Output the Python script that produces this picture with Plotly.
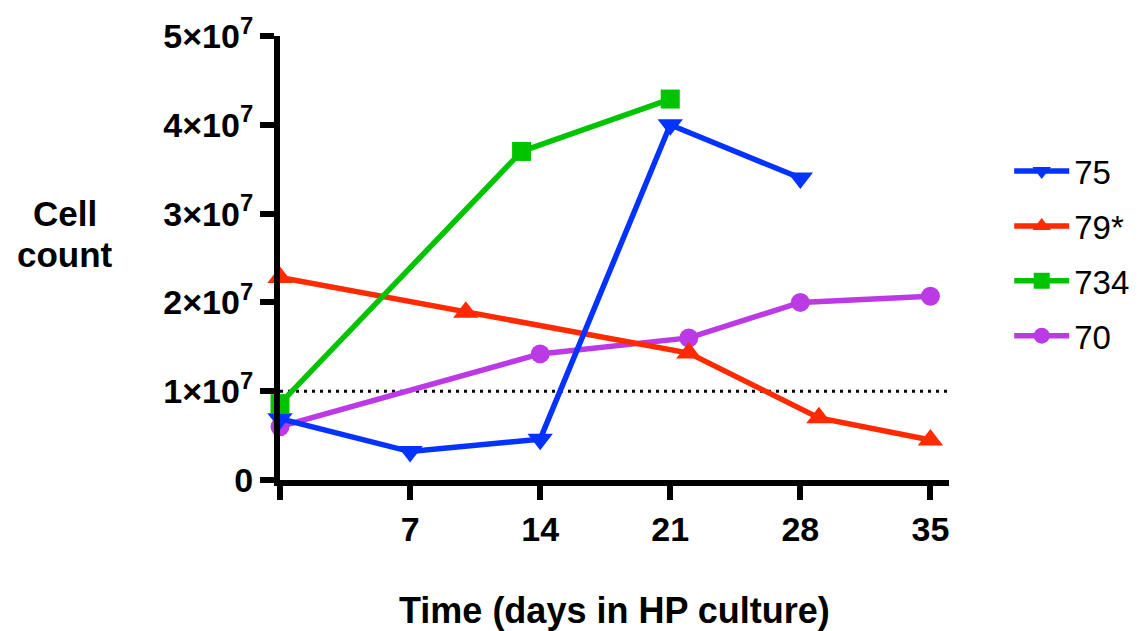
import plotly.graph_objects as go

# Cell counts per line over time in HP culture
days_75 = [0, 7, 14, 21, 28]
count_75 = [6.9e6, 3.2e6, 4.6e6, 4.0e7, 3.4e7]

days_79 = [0, 10, 22, 29, 35]
count_79 = [2.28e7, 1.89e7, 1.43e7, 7.0e6, 4.5e6]

days_734 = [0, 13, 21]
count_734 = [8.6e6, 3.7e7, 4.29e7]

days_70 = [0, 14, 22, 28, 35]
count_70 = [6.0e6, 1.42e7, 1.60e7, 2.0e7, 2.07e7]

threshold = 1e7

x_tick_vals = [0, 7, 14, 21, 28, 35]
x_tick_text = ["", "7", "14", "21", "28", "35"]
y_tick_vals = [0, 1e7, 2e7, 3e7, 4e7, 5e7]
y_tick_text = ["0", "1×10<sup>7</sup>", "2×10<sup>7</sup>", "3×10<sup>7</sup>",
               "4×10<sup>7</sup>", "5×10<sup>7</sup>"]

BLUE = "#0433ff"
RED = "#ff2a00"
GREEN = "#00c400"
PURPLE = "#bc3ae6"

FONT = "Liberation Sans, Arial, sans-serif"

series = [
    # name, x, y, color, symbol, size, legend rank
    ("70", days_70, count_70, PURPLE, "circle", 19, 4),
    ("79*", days_79, count_79, RED, "triangle-up", 22, 2),
    ("75", days_75, count_75, BLUE, "triangle-down", 22, 1),
    ("734", days_734, count_734, GREEN, "square", 19, 3),
]

fig = go.Figure()
for name, xs, ys, color, symbol, size, rank in series:
    fig.add_trace(go.Scatter(
        x=xs, y=ys, name=name, mode="lines+markers",
        line=dict(color=color, width=5.5),
        marker=dict(symbol=symbol, size=size, color=color, line=dict(width=0)),
        cliponaxis=False, legendrank=rank, legendgroup=name,
    ))

# dotted reference line at 1×10^7
fig.add_shape(type="line", xref="paper", x0=0, x1=1, yref="y",
              y0=threshold, y1=threshold,
              line=dict(color="black", width=3, dash="3px,5px"), layer="below")

fig.update_layout(
    width=1147, height=631, autosize=False,
    margin=dict(l=280, r=197, t=31, b=151),
    plot_bgcolor="white", paper_bgcolor="white",
    font=dict(family=FONT, color="black"),
    showlegend=True,
    legend=dict(x=1.09, xanchor="left", y=0.51, yanchor="middle",
                font=dict(size=33, family=FONT, color="black"),
                tracegroupgap=9, itemwidth=55, bgcolor="rgba(0,0,0,0)"),
    xaxis=dict(range=[0, 36], tickvals=x_tick_vals, ticktext=x_tick_text,
               showgrid=False, zeroline=False, showline=True,
               linecolor="black", linewidth=6, ticks="outside",
               ticklen=14, tickwidth=6, tickcolor="black",
               tickfont=dict(size=34, family=FONT, color="black", weight="bold")),
    yaxis=dict(range=[0, 5e7], tickvals=y_tick_vals, ticktext=y_tick_text,
               showgrid=False, zeroline=False, showline=True,
               linecolor="black", linewidth=6, ticks="outside",
               ticklen=14, tickwidth=6, tickcolor="black",
               tickfont=dict(size=34, family=FONT, color="black", weight="bold")),
)

fig.add_annotation(text="<b>Cell</b>", xref="paper", yref="paper",
                   x=-0.322, y=0.60, xanchor="center", yanchor="middle",
                   showarrow=False, font=dict(size=35, family=FONT, color="black"))
fig.add_annotation(text="<b>count</b>", xref="paper", yref="paper",
                   x=-0.322, y=0.507, xanchor="center", yanchor="middle",
                   showarrow=False, font=dict(size=35, family=FONT, color="black"))
fig.add_annotation(text="<b>Time (days in HP culture)</b>", xref="paper", yref="paper",
                   x=0.5, y=-0.295, xanchor="center", yanchor="middle",
                   showarrow=False, font=dict(size=36, family=FONT, color="black"))

fig.write_html("out.html")
